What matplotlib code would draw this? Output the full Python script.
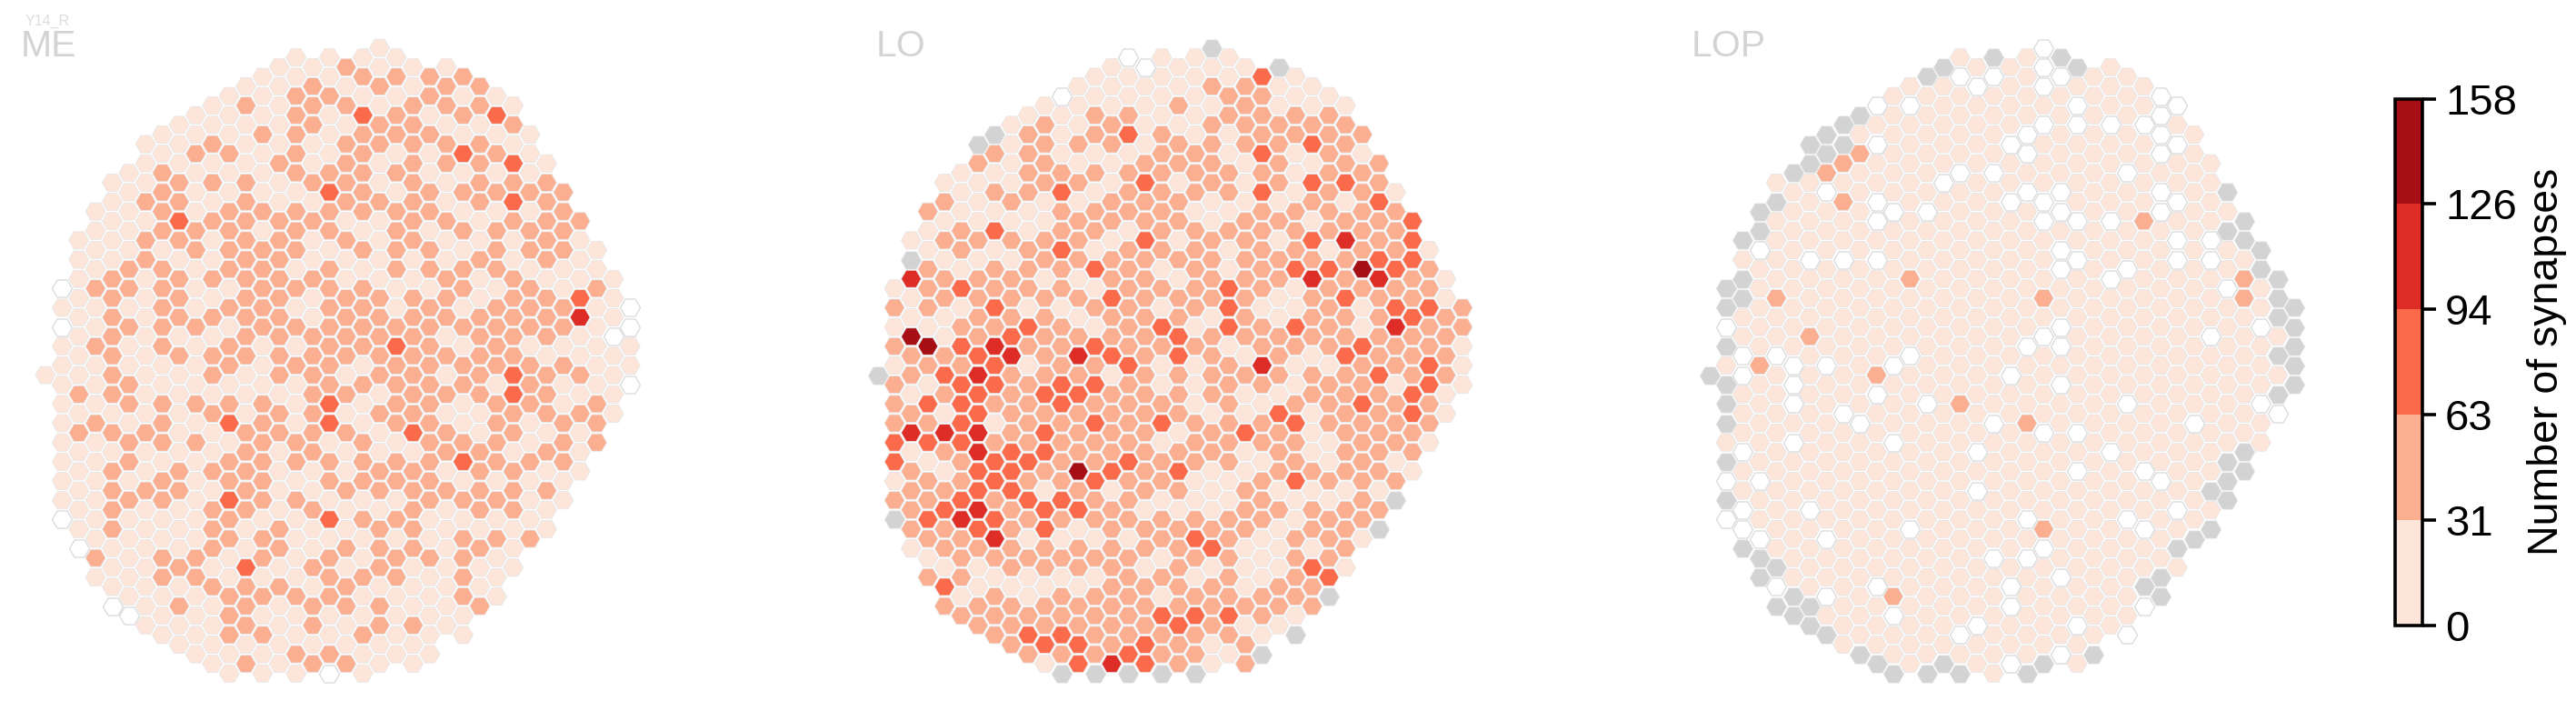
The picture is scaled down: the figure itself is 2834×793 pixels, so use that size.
import matplotlib
matplotlib.use("Agg")
import matplotlib.pyplot as plt
from matplotlib.colors import ListedColormap, BoundaryNorm
from matplotlib.cm import ScalarMappable

plt.rcParams['font.family'] = ['Liberation Sans', 'DejaVu Sans']

# first row of each hex column (same eye map for all three panels)
first_row = [34, 25, 20, 17, 14, 13, 10, 9, 8, 7, 6, 5, 4, 3, 2, 1, 2, 1,
             2, 1, 0, 1, 2, 3, 2, 3, 4, 5, 6, 9, 12, 15, 18, 21, 24, 27]

# synapse class per hex, column by column
# 0 = no synapses, 1-5 = colorbar bins, g = column not in this neuropil
me_cols = [
    "1", "0101111111110", "11111111212111110", "11112112111211111121",
    "11111222222212122221110", "111112212112212212111110", "11121221111111121121111111",
    "112222122222112221221122111", "1112232122212111112211121211",
    "11211122111211121211111221111", "112121211212122121121222121111",
    "1112112222121221231223221122211", "1211122222222221112222211322212",
    "11121112122222111222222122121211", "11111211222222222122111122121111",
    "112222212221212121112212111121121", "12221121211211222222211211212212",
    "112111232212222222331221312221120", "21212222121122221212112112122112",
    "121322222121222212112221211211211", "112122112111122222121122122212211",
    "12122121222211232222122121221111", "11222222221122222223122222111211",
    "2212112212212222222222211211111", "122122112112221212122121111111",
    "212131212122121221123121222211", "2212222112112222211222212112",
    "131212122212222122221212111", "1213232112222233221222111",
    "1112122122212221121112", "12222212221222121211", "22221122121122211",
    "21113411212111", "11211111222", "11101111", "00110",
]
lo_cols = [
    "g", "121212223312g", "1g411522124122221", "21122215213231223212",
    "12121221123214212322132", "111221312323333223422212", "g2111212222343344334321122",
    "g21213122324332123323421222", "1111212122234222233322221222",
    "12222112221321222232321211232", "122221122122222323321332212231",
    "011123223221222332222321212232g", "1112121222121242322252312212233",
    "1122121221 3121323232 2322121222 2g", "1112211221223223 1222231222222224",
    "0112312221222222 3222232221222223g", "0111123223222222 2222222122122233",
    "1111222222212132 1123122122121322g", "1121221221212233 2221232122222322",
    "1111122212222212 1112221123212322g", "g1212222112222122 2212211123122211",
    "1122112212113331 2222221122222321", "1222211122222221 2113112221112122",
    "322232322222122 421221222111221g", "g112222121221122 21322212111221",
    "112211122231132 11232231122221g", "112313213242221 2211121221322",
    "12222222132222 122211212223g", "12223124223223 22222212221",
    "212222252113 2232222221", "2232234222 232222212g", "1222323422122212g",
    "33322322233221", "12232233221", "11222211", "22111",
]
lop_cols = [
    "g", "gg0g1ggg1g0g0", "g1gg110011101100g", "gg0111112111110110gg",
    "1g11112110 1111111111 g0g", "g111111111000101111111gg", "gg1111011121111111101111gg",
    "gg20 11111111 0 11111111 0 11 0 1 g", "gg212110 1111111 0 111111111111",
    "g12 1111111111111 0 11111111111 g", "0101100101111120 111111111 0 111 g",
    "111111 0 1111111 0 111 0 1111111 2 0 11 g", "1 0 11111111 2 111 0 11111111 0 1111111",
    "g 111111 0 111111111 0 1111111111111 g", "g 11111 0 111111111111111111111111 g",
    "1 0 1111 0 11111111111 2 11111111111 0 1 g", "1 0 111111111111111111 0 1 0 111111 0 11",
    "g 0 1111 0 111111111111 0 111111 0 111111", "1111 0 11 0 11111111 0 1111111111 0 0 11 0",
    "1111 00 1 0 1111111 0 111 2 1111 0 1 0 11111 g", "000 1 0 111 00 111 2 1 0 1111 0 1111 2 0 11111 g",
    "g0 11111 00 1 00 11 00 1 0 111111111 0 111 0", "g1 00 1111 0 1 0 11111111 0 1 0 1111111 0 11",
    "111111111111111111111111111111 g", "111 0 1111 0 11 0 11111111 0 111111111",
    "11111 0 1111 0 111111 0 11111 0 11111 0", "11 0 1111 2 111111111111 0 11 0 11 g 0",
    "0000 1 00 1111111111111 0 1111 gg", "01011 0 1 00 111111111111 0 1 g 1",
    "111111111111111 0 11111 g", "1111 00 111 0 1111111 g 1 g", "g1g110 11111111 ggg",
    "gg122 1111111 gg", "gg11 0 111 0 11", "ggg1g1g0", "ggggg",
]

panel_names = ["ME", "LO", "LOP"]
panel_data = [me_cols, lo_cols, lop_cols]

bin_edges = [0, 31, 63, 94, 126, 158]
bin_mid = [0, 15, 47, 78, 110, 142]
bin_colors = ['#fee5d9', '#fcae91', '#fb6a4a', '#de2d26', '#a50f15']

W, H = 2834, 793
cmap = ListedColormap(bin_colors)
norm = BoundaryNorm(bin_edges, cmap.N)

fig = plt.figure(figsize=(W / 100, H / 100), dpi=100)

col_dx, row_dy = 18.38, 10.585
panel_x0 = [50, 965.7, 1880.7]
top_y = 52.7
pad = 30
title_x = [23, 964, 1861]

for name, cols, x0, tx in zip(panel_names, panel_data, panel_x0, title_x):
    ax = fig.add_axes([(x0 - pad) / W, 1 - 763 / H, (35 * col_dx + 2 * pad) / W, (763 - 30) / H])
    xs, ys, vals = [], [], []
    xg, yg = [], []
    xw, yw = [], []
    for c, s in enumerate(cols):
        s = s.replace(" ", "")
        for k, ch in enumerate(s):
            r = first_row[c] + 2 * k
            if ch == 'g':
                xg.append(c)
                yg.append(r)
            elif ch == '0':
                xw.append(c)
                yw.append(r)
            else:
                xs.append(c)
                ys.append(r)
                vals.append(bin_mid[int(ch)])
    ax.scatter(xw, yw, marker='H', s=250, c='white', edgecolors='#d9d9d9', linewidths=0.9)
    ax.scatter(xg, yg, marker='H', s=250, c='#d3d3d3', edgecolors='#dedede', linewidths=0.6)
    ax.scatter(xs, ys, marker='H', s=250, c=vals, cmap=cmap, norm=norm,
               edgecolors='#e6e6e6', linewidths=0.6)
    ax.set_xlim(-pad / col_dx, 35 + pad / col_dx)
    ax.set_ylim((763 - top_y) / row_dy, (30 - top_y) / row_dy)
    ax.axis('off')
    fig.text(tx / W, 1 - 62 / H, name, color='#d3d3d3', fontsize=29.5, ha='left', va='baseline')

fig.text(28 / W, 1 - 28 / H, "Y14_R", color='#dddddd', fontsize=11.5, ha='left', va='baseline')

# colorbar
cax = fig.add_axes([2635 / W, 1 - 688 / H, 30 / W, (688 - 108.5) / H])
cb = fig.colorbar(ScalarMappable(norm=norm, cmap=cmap), cax=cax, ticks=bin_edges, spacing='uniform')
cb.ax.tick_params(length=11, width=2.6, labelsize=34, pad=7)
cb.outline.set_linewidth(2.6)
cb.set_label("Number of synapses", fontsize=33.5, labelpad=8)

fig.savefig("out.png", dpi=100)
